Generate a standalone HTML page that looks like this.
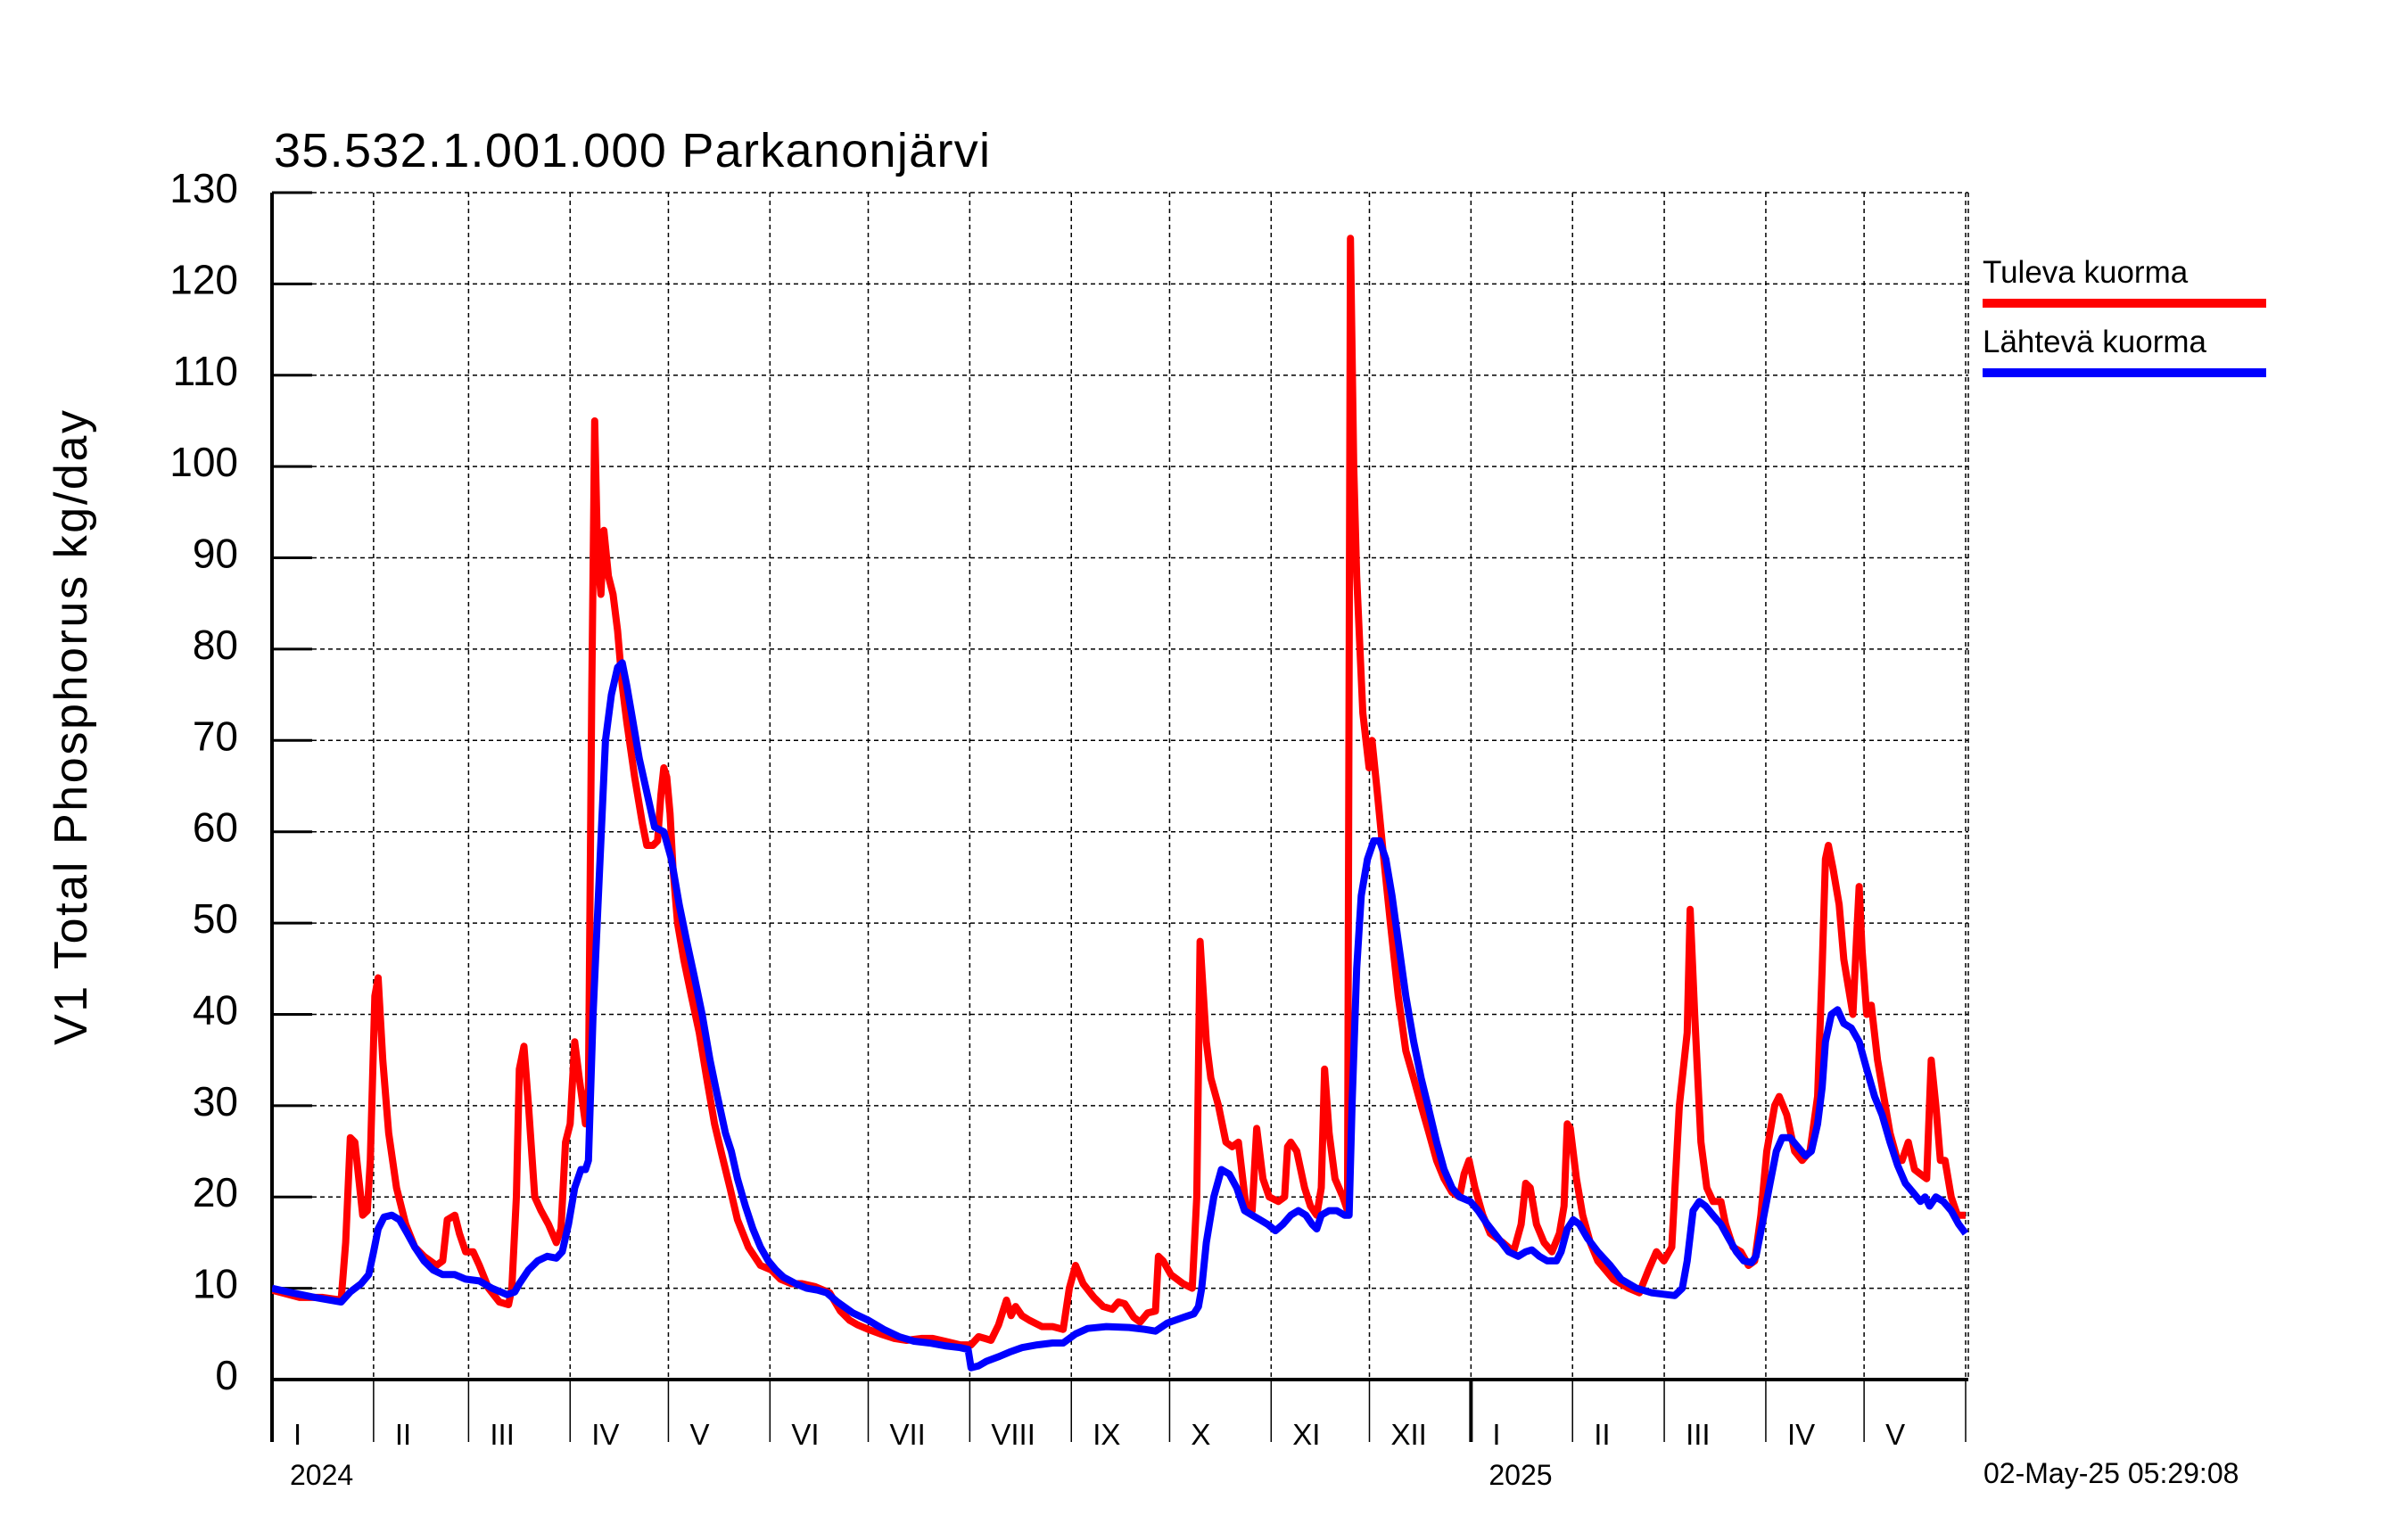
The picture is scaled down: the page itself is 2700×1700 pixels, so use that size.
<!DOCTYPE html>
<html><head><meta charset="utf-8"><style>
html,body{margin:0;padding:0;background:#fff}
svg{display:block}
text{font-family:"Liberation Sans",Arial,sans-serif;fill:#000}
</style></head><body>
<svg id="chart" xmlns="http://www.w3.org/2000/svg" width="2700" height="1700" viewBox="0 0 2700 1700">
<rect width="2700" height="1700" fill="#fff"/>
<text x="307" y="187" font-size="54" textLength="803">35.532.1.001.000 Parkanonjärvi</text>
<text transform="translate(97,816) rotate(-90)" text-anchor="middle" font-size="52" textLength="712">V1 Total Phosphorus kg/day</text>
<g id="grid"></g>
<g id="yticks"></g>
<g id="xticks"></g>
<defs><clipPath id="plotclip"><rect x="305" y="150" width="1902" height="1400"/></clipPath></defs>
<g id="series" clip-path="url(#plotclip)"></g>
<g>
<text x="2223" y="317" font-size="35">Tuleva kuorma</text>
<rect x="2223" y="335" width="318" height="10" fill="#ff0000"/>
<text x="2223" y="395" font-size="35">Lähtevä kuorma</text>
<rect x="2223" y="413" width="318" height="10" fill="#0000ff"/>
</g>
<text x="2224" y="1663" font-size="32">02-May-25 05:29:08</text>
</svg>
<script>
const yTicks=[0,10,20,30,40,50,60,70,80,90,100,110,120,130];
const monthStarts=[0,31,60,91,121,152,182,213,244,274,305,335,366,397,425,456,486,517];
const monthLabels=["I","II","III","IV","V","VI","VII","VIII","IX","X","XI","XII","I","II","III","IV","V"];
const yearDays=[0,366];
const yearLabels=["2024","2025"];
const redDays=[0,8.4,15.5,21.1,22.5,23.9,25.3,27.7,29.1,30,31.4,32.4,33.8,35.6,38,40.8,43.6,46.4,50.2,52.1,53.5,55.8,57.2,59.1,61.4,63.3,66.1,69.4,72.2,73.2,74.6,75.5,76.9,78.3,80.2,82.1,84.4,86.8,88.2,89.6,91,92.4,93.8,95.7,96.6,97.6,98.5,99.4,100.4,101.3,102.7,104.1,105.5,106.9,108.3,110.7,113,114.4,116.3,117.7,118.7,119.6,120.5,121.5,122.4,123.8,125.7,128,130.4,132.7,135.1,137.4,139.8,142.1,145.4,149.1,152.4,155.2,158.5,161.8,165.6,170.2,173.5,176.3,178.7,182,185.7,190,193.7,198.4,201.7,205.4,210.1,213.4,215.7,217.6,219.5,221.8,224.2,225.6,227,228.9,231.2,235,238.3,241.5,243.4,245.3,247.6,250.9,253.7,256.5,258.4,260.3,263.1,265,267.3,269.7,270.6,272,274.4,278.1,280.9,282.3,283.3,285.2,286.6,288.9,291.2,293.1,295,297.3,299.2,300.6,302.5,304.4,307.2,309.1,310,311,312.8,315.2,317,318.9,320.3,321.3,322.7,324.5,326.9,328.3,329.2,330.2,331.1,333,334.9,335.8,337.2,339.1,341.4,343.8,346.1,348.5,350.8,353.2,355.5,357.8,360.2,362.5,363.9,365.4,367.2,369.6,371.9,375.7,379,381.3,382.7,384.1,386,388.3,390.7,393,394.4,395.4,396.3,398.2,400.1,402.4,404.7,409.4,414.1,417.4,420.2,422.6,424.9,427.3,429.6,432,432.9,434.3,436.2,438,439.9,442.3,443.7,446,448.4,450.7,452.6,454.5,456.3,458.7,460.1,462.4,464.8,467.1,469.5,471.8,473.2,474.2,475.1,476.5,478.4,479.8,481.2,482.6,483.5,484.5,485.4,486.8,488.2,490.1,492,493.9,496.2,497.6,499.5,501.4,503.2,505.1,506.5,507.9,509.3,510.7,512.6,514.5,517];
const redVals=[9.8,9,9,8.7,15,26.5,26,18,18.5,24,42,44,35,27,21,17,14.5,13.5,12.5,13,17.5,18,16,14,14,12.5,10,8.5,8.2,10,20,34,36.5,30,20,18.5,17,15,16.5,26,28,37,33,28,32,75,105,90,86,93,88,86,82,76,72,66,61,58.5,58.5,59,64,67,66,62,56,50,46,42,38,33,28,24.5,21,17.5,14.5,12.5,12,11,10.5,10.5,10.2,9.5,7.5,6.5,6,5.5,5,4.5,4.3,4.5,4.5,4.2,3.8,3.8,4.7,4.5,4.3,6,8.7,7,8,7,6.5,5.8,5.8,5.5,10,12.5,10.5,9,8,7.7,8.5,8.3,6.8,6.3,7.3,7.5,13.5,13,11.5,10.5,10,20,48,37,33,30,26,25.5,26,19,18.5,27.5,22,20,19.5,20,25.5,26,25,21,19,18,21,34,27,22,20,18.5,125,100,88,73,67,70,65,58,50,42,36,33,30,27,24,22,20.5,20,22.5,24,21,18,16,15,14,17,21.5,21,17,15,14,16,19,28,27.5,22,18,15,13,11,10,9.5,12,14,13,14.5,30,38,51.5,40,26,21,19.5,19.5,17,14.5,14,12.5,13,18,25,30,31,29,25,24,25,31,45,57,58.5,56,52,46,43,40,47,54,47,40,41,35,31,27,24,24,26,23,22.5,22,35,30,24,24,20,18,18];
const blueDays=[0,6.1,13.1,21.1,23.9,27.2,29.5,31,32.4,34.2,36.6,38.9,41.3,43.6,46.4,49.2,52.1,55.8,59.1,63.3,67.1,71.8,74.1,75.5,78.3,81.1,84,86.8,88.6,90.5,92.4,94.3,95.7,96.6,98,99.9,101.8,103.6,105.5,106.9,108.3,110.2,112.1,114,116.8,119.6,121.9,124.3,126.6,129,131.3,133.7,136,138.4,140.2,142.1,144.5,146.8,149.1,151.5,153.8,156.2,159.9,163.2,166.5,169.3,172.6,177.3,182,186.7,191.4,196,200.7,205.4,210.1,212.5,213.4,215.7,218.1,221.8,225.1,228.9,233.6,238.3,241.5,245.3,249,254.7,261.7,266.4,269.7,273.4,278.1,281.4,282.8,283.8,285.2,287.5,289.8,292.2,294.5,296.9,299.2,301.6,303.9,306.3,308.6,311,313.3,315.6,317.5,318.9,320.3,322.7,325,327.4,328.8,329.7,331.1,332.5,334.4,336.3,338.1,340,341.9,343.8,346.1,348.5,350.8,353.2,355.5,357.8,360.2,362.5,365.8,368.2,371,374.3,377.5,380.4,382.7,384.6,386.9,389.3,392.1,393.5,395.4,397.2,399.1,401.5,404.7,408.5,411.8,416.5,421.2,425.9,428.2,430.5,432,433.8,435.7,437.6,439.9,442.3,444.6,447,449.3,451.6,453,454.9,457.3,459.2,461,463.4,465.7,468.1,469.9,471.8,473.2,474.2,476,477.9,479.8,482.1,484.5,486.8,489.2,491.5,493.9,496.2,498.6,500.9,503.2,504.6,506,507.9,510.2,512.6,514.9,517];
const blueVals=[10,9.5,9,8.5,9.6,10.5,11.5,14,16.5,17.8,18,17.5,16,14.5,13,12,11.5,11.5,11,10.8,10,9.3,9.6,10.5,12,13,13.5,13.3,14,17,21,23,23,24,40,55,70,75,78,78.5,76,72,68,65,60.5,60,57,52,48,44,40,35,31,27,25,22,19,16.5,14.5,13,12,11.2,10.5,10,9.8,9.5,8.5,7.3,6.5,5.5,4.7,4.2,4,3.7,3.5,3.3,1.3,1.5,2,2.5,3,3.5,3.8,4,4,5,5.6,5.8,5.7,5.5,5.3,6.2,6.8,7.2,8,10,15,20,23,22.5,21,18.5,18,17.5,17,16.3,17,18,18.5,18,17,16.5,18,18.5,18.5,18,18,30,45,53,57,59,59,57,53,48,42,37,33,29.5,26,23,21,20,19.5,18.5,17,15.5,14,13.5,14,14.2,13.5,13,13,14,16.5,17.5,17,15.5,14,12.5,11,10,9.5,9.3,9.2,10,13,18.5,19.5,19,18,17,15.5,14,13,12.8,13.5,17,21.5,25,26.5,26.5,25.5,24.5,25,28,32,37,40,40.5,39,38.5,37,34,31,29,26,23.5,21.5,20.5,19.5,20,19,20,19.5,18.5,17,16];

const X0=305,X1=2204,Y0=1547,YTOP=216,DAYS=517;
function xs(d){return X0+d*(X1-X0)/DAYS;}
function ys(v){return Y0-v*(Y0-YTOP)/130;}
const NS="http://www.w3.org/2000/svg";
function mk(tag,attrs,parent){const e=document.createElementNS(NS,tag);for(const k in attrs)e.setAttribute(k,attrs[k]);parent.appendChild(e);return e;}
const grid=document.getElementById('grid'),yt=document.getElementById('yticks'),xt=document.getElementById('xticks'),ser=document.getElementById('series');

yTicks.forEach(v=>{
  if(v>0){const g=mk('line',{x1:X0,x2:2207,y1:ys(v),y2:ys(v),stroke:'#000','stroke-width':1.5,'stroke-dasharray':'5,4'},grid);
    
    
    const t=mk('line',{x1:X0,x2:X0+45,y1:ys(v),y2:ys(v),stroke:'#000','stroke-width':3},yt);
    
    }
  const l=mk('text',{x:267,y:ys(v)+11,'text-anchor':'end','font-size':46},yt);
  l.textContent=v;
  
  
});
monthStarts.forEach((d,i)=>{
  if(d>0){const g=mk('line',{x1:xs(d),x2:xs(d),y1:YTOP,y2:Y0,stroke:'#000','stroke-width':1.5,'stroke-dasharray':'5,4'},grid);
    
    }
  const isYear=yearDays.indexOf(d)>=0;
  const t=mk('line',{x1:xs(d),x2:xs(d),y1:Y0,y2:1617,stroke:'#000','stroke-width':isYear?4:1.5},xt);
  
  
  if(i<monthLabels.length){const l=mk('text',{x:xs(d)+24,y:1620,'font-size':33},xt);
    l.textContent=monthLabels[i];
    
    }
});
const rg=mk('line',{x1:2207,x2:2207,y1:YTOP,y2:Y0,stroke:'#000','stroke-width':1.5,'stroke-dasharray':'5,4'},grid);


yearDays.forEach((d,i)=>{const l=mk('text',{x:xs(d)+20,y:1665,'font-size':32},xt);
  l.textContent=yearLabels[i];
  
  });
const ax=mk('line',{x1:X0,x2:X0,y1:YTOP,y2:1617,stroke:'#000','stroke-width':4},xt);


const bx=mk('line',{x1:X0,x2:2207,y1:Y0,y2:Y0,stroke:'#000','stroke-width':4},xt);



function path(days,vals){return days.map((d,i)=>(i?'L':'M')+xs(d).toFixed(1)+','+ys(vals[i]).toFixed(1)).join(' ');}
const rp=mk('path',{d:path(redDays,redVals),fill:'none',stroke:'#ff0000','stroke-width':8,'stroke-linejoin':'round'},ser);


const bp=mk('path',{d:path(blueDays,blueVals),fill:'none',stroke:'#0000ff','stroke-width':8,'stroke-linejoin':'round'},ser);


</script>
</body></html>
